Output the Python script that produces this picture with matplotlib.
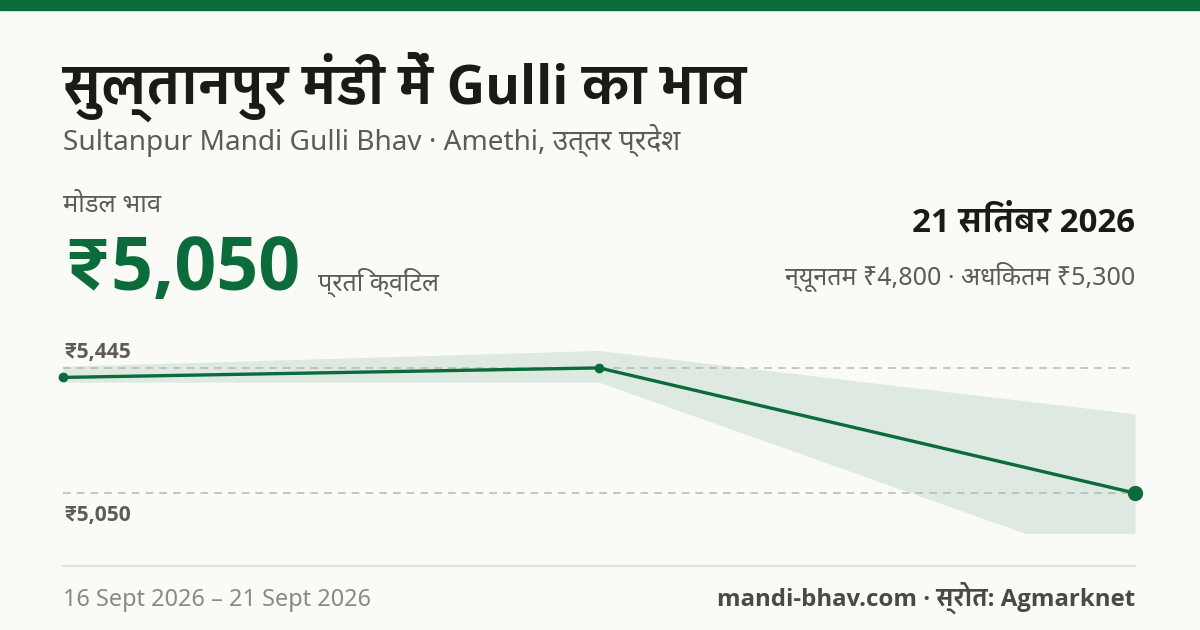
import matplotlib
matplotlib.use("Agg")
import matplotlib.pyplot as plt
from matplotlib import font_manager
from matplotlib.lines import Line2D
from matplotlib.ft2font import FT2Font

# ---------------- data ----------------
dates = ["16 Sept 2026", "19 Sept 2026", "21 Sept 2026"]
modal_price = [5415, 5445, 5050]
min_price = [5400, 5400, 4800]
max_price = [5450, 5500, 5300]
ref_labels = ["₹5,445", "₹5,050"]
ref_values = [5445, 5050]

title = "सुल्तानपुर मंडी में Gulli का भाव"
subtitle = "Sultanpur Mandi Gulli Bhav · Amethi, उत्तर प्रदेश"
modal_label = "मोडल भाव"
modal_value = "₹5,050"
unit_label = "प्रति क्विंटल"
date_label = "21 सितंबर 2026"
range_label = "न्यूनतम ₹4,800 · अधिकतम ₹5,300"
footer_left = "16 Sept 2026 – 21 Sept 2026"
footer_right = "mandi-bhav.com · स्रोत: Agmarknet"

# ---------------- fonts ----------------
def wnum(w):
    if isinstance(w, (int, float)):
        return int(w)
    return font_manager.weight_dict.get(str(w).lower(), 400)

def covers(fname, cp):
    try:
        return cp in FT2Font(fname).get_charmap()
    except Exception:
        return False

entries = font_manager.fontManager.ttflist
deva_reg, deva_bold = [], []
for f in entries:
    if "Devanagari" in f.name or covers(f.fname, 0x0915):
        if wnum(f.weight) >= 600:
            if f.name not in deva_bold:
                deva_bold.append(f.name)
        else:
            if f.name not in deva_reg:
                deva_reg.append(f.name)
deva_reg.sort(key=lambda n: 0 if "Devanagari" in n else 1)
deva_bold.sort(key=lambda n: 0 if "Devanagari" in n else 1)

def has_bold(name):
    return any(f.name == name and wnum(f.weight) >= 600 for f in entries)

latin_bold = [n for n in ["Noto Sans", "Open Sans", "Roboto", "DejaVu Sans"] if has_bold(n)]
LAT_B = latin_bold[0] if latin_bold else "DejaVu Sans"

FAM_R = ["Noto Sans"] + deva_reg + ["DejaVu Sans"]
FAM_B = [LAT_B] + (deva_bold if deva_bold else deva_reg) + ["DejaVu Sans"]
plt.rcParams["font.family"] = FAM_R

W, H = 1200, 630
fig = plt.figure(figsize=(12, 6.3), dpi=100)
fig.patch.set_facecolor("#fafaf6")

GREEN = "#0b6b3a"

def px(x, y):
    return x / W, 1 - y / H

def ptsz(p):
    return p * 0.72

# top bar
fig.patches.append(plt.Rectangle((0, 1 - 10 / H), 1, 10 / H, transform=fig.transFigure,
                                 color=GREEN, zorder=5))

fig.text(*px(63, 104), title, fontsize=ptsz(53), fontweight="bold", family=FAM_B,
         color="#1a1a16", va="baseline", ha="left")
fig.text(*px(63, 150), subtitle, fontsize=ptsz(28), color="#5c5c55", va="baseline", ha="left")

fig.text(*px(63, 212), modal_label, fontsize=ptsz(25.5), color="#5c5c55", va="baseline", ha="left")
fig.text(*px(63, 290), modal_value, fontsize=ptsz(73.5), fontweight="bold", family=FAM_B,
         color=GREEN, va="baseline", ha="left")
fig.text(*px(318, 290), unit_label, fontsize=ptsz(25), color="#5c5c55", va="baseline", ha="left")

fig.text(*px(1135, 231), date_label, fontsize=ptsz(33), fontweight="bold", family=FAM_B,
         color="#1a1a16", va="baseline", ha="right")
fig.text(*px(1135, 285), range_label, fontsize=ptsz(25), color="#5c5c55", va="baseline", ha="right")

# ---------------- chart ----------------
ax_l, ax_r, ax_t, ax_b = 63, 1135, 328, 533
ax = fig.add_axes([ax_l / W, 1 - ax_b / H, (ax_r - ax_l) / W, (ax_b - ax_t) / H])
ax.set_facecolor("none")
x = list(range(len(dates)))
ax.set_xlim(0, len(dates) - 1)
ax.set_ylim(4924, 5571)
ax.axis("off")

ax.fill_between(x, min_price, max_price, color="#dee9e1", lw=0, zorder=1)
for v in ref_values:
    ax.axhline(v, color="#b8b8b0", lw=1.1, dashes=(5, 4), zorder=2)
ax.plot(x, modal_price, color=GREEN, lw=2.4, zorder=3, clip_on=False, solid_capstyle="round")
ax.plot(x[:-1], modal_price[:-1], "o", color=GREEN, ms=6, zorder=4, clip_on=False)
ax.plot(x[-1:], modal_price[-1:], "o", color=GREEN, ms=10, zorder=4, clip_on=False)

fig.text(*px(63, 358), ref_labels[0], fontsize=ptsz(21), fontweight="bold", family=FAM_B,
         color="#5c5c52", va="baseline", ha="left")
fig.text(*px(63, 521), ref_labels[1], fontsize=ptsz(21), fontweight="bold", family=FAM_B,
         color="#5c5c52", va="baseline", ha="left")

# divider & footer
fig.add_artist(Line2D([63 / W, 1135 / W], [1 - 566 / H, 1 - 566 / H], transform=fig.transFigure,
                      color="#e3e3dd", lw=1.5))
fig.text(*px(63, 606), footer_left, fontsize=ptsz(23.5), color="#8a8a82", va="baseline", ha="left")
fig.text(*px(1135, 606), footer_right, fontsize=ptsz(24), fontweight="bold", family=FAM_B,
         color="#4a4a42", va="baseline", ha="right")

fig.savefig("out.png", dpi=100, facecolor=fig.get_facecolor())
